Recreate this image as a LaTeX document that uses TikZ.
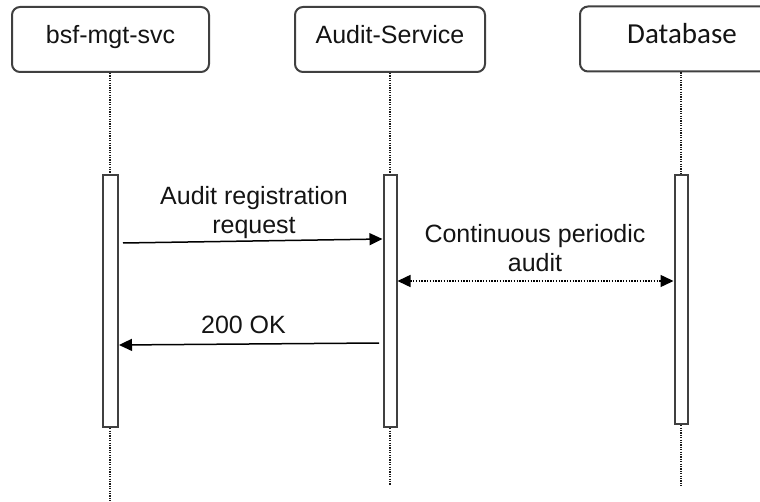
\documentclass[tikz,border=0pt]{standalone}
\usepackage{fontspec}
\usepackage{xcolor}
\setmainfont{Liberation Sans}
\newfontfamily\dbfont{Carlito}
\usetikzlibrary{arrows.meta}
\definecolor{boxline}{RGB}{64, 64, 64}
\definecolor{textdark}{RGB}{20, 20, 20}

\begin{document}
\begin{tikzpicture}[x=0.5pt, y=-0.5pt,
    every node/.style={font=\fontsize{12.5}{14.5}\selectfont, text=textdark},
    actor/.style={draw=boxline, fill=white, rounded corners=4pt, line width=1pt, minimum height=32.5pt, inner sep=0pt, text height=9pt, text depth=4.5pt},
    bar/.style={draw=boxline, fill=white, line width=1pt, minimum height=126pt, inner sep=0pt, anchor=north},
    lifeline/.style={line width=0.6pt, dash pattern=on 0.6pt off 0.6pt, color=black!90},
    msg/.style={-{Triangle[length=6.5pt, width=6pt]}, line width=0.75pt, color=black},
    label/.style={align=center, inner sep=0pt}]
    \useasboundingbox (0,0) rectangle (760,502);
    \clip (0,0) rectangle (760,502);

    % Participant boxes along the top (Database runs off the right edge)
    \node[actor, minimum width=98.5pt] (mgt) at (110.5, 39.5) {bsf-mgt-svc};
    \node[actor, minimum width=95pt] (audit) at (390, 39.5) {Audit-Service};
    \node[actor, minimum width=102pt] (db) at (682, 39) {\dbfont\fontsize{14.5}{16}\selectfont Database};

    % Lifelines
    \coordinate (mgt-end) at (110, 502);
    \coordinate (audit-end) at (390, 485);
    \coordinate (db-end) at (681, 487);
    \draw[lifeline] (mgt.south -| mgt-end) -- (mgt-end);
    \draw[lifeline] (audit.south -| audit-end) -- (audit-end);
    \draw[lifeline] (db.south -| db-end) -- (db-end);

    % Activation bars
    \node[bar, minimum width=7.5pt] (barL) at (110, 174) {};
    \node[bar, minimum width=6.5pt] (barM) at (390, 174) {};
    \node[bar, minimum width=6.5pt, minimum height=124.5pt] (barR) at (681, 174) {};

    % Messages
    \draw[msg] ([shift={(4.5,69)}]barL.north east) -- ([shift={(0,65)}]barM.north west);
    \node[label] (reqtxt) at (254, 213) {Audit registration\\request};

    \draw[msg, {Triangle[length=6.5pt, width=6pt]}-{Triangle[length=6.5pt, width=6pt]}, dash pattern=on 0.7pt off 0.7pt] ([shift={(0,107)}]barM.north east) -- ([shift={(0,107)}]barR.north west);
    \node[label] (audtxt) at (535, 248) {Continuous periodic\\audit};

    \draw[msg] ([shift={(-3.5,169)}]barM.north west) -- ([shift={(0.5,171)}]barL.north east);
    \node[label, anchor=base] (oktxt) at (243.5, 333) {200 OK};
\end{tikzpicture}
\end{document}
